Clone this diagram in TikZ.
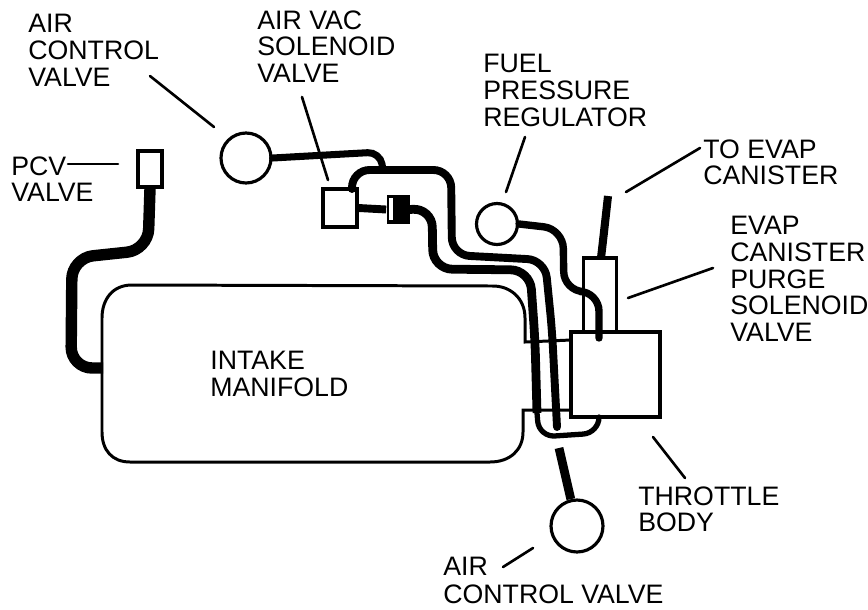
\documentclass[tikz,border=0pt]{standalone}
\usepackage{fontspec}
\setmainfont{Liberation Sans}
\tikzset{
  valve/.style={draw,circle,line width=1.8pt,fill=white,inner sep=0pt},
  partbox/.style={draw,rectangle,line width=1.8pt,fill=white,inner sep=0pt},
  hose/.style={line width=4.5pt,rounded corners=10pt,line cap=round},
  thinhose/.style={line width=3pt,rounded corners=9pt,line cap=round},
  leader/.style={line width=1.5pt,line cap=round},
  lbl/.style={anchor=north west,align=left,inner sep=0pt,font=\fontsize{15.2}{15.2}\selectfont}
}
\begin{document}
\begin{tikzpicture}[x=0.02cm,y=-0.02cm]
  \useasboundingbox (0,0) rectangle (868,609);

  % Manifold with its throat
  \draw[line width=1.7pt]
  (571,340) -- (525,342)                                % Upper throat
  -- (525,318) .. controls (525,298) and (510,286) .. (493,286)
  -- (132,285) .. controls (112,285) and (102,300) .. (102,318)
  -- (102,432) .. controls (102,450) and (112,462) .. (130,462)
  -- (490,462) .. controls (510,462) and (523,450) .. (523,432)
  -- (523,410) -- (571,410);                            % Lower throat
  \node[lbl] (intake) at (210,351) {INTAKE\\MANIFOLD};

  % Parts
  \node[partbox,minimum width=0.66cm,minimum height=1.48cm] (purge) at (600,295) {};
  \node[partbox,minimum width=1.78cm,minimum height=1.7cm] (body) at (615.5,374.5) {};
  \node[partbox,minimum width=0.48cm,minimum height=0.72cm] (pcv) at (150,169) {};
  \node[partbox,minimum width=0.68cm,minimum height=0.76cm] (vacsol) at (340,208) {};
  \node[valve,minimum size=1.0cm] (airtop) at (246,158) {};
  \node[valve,minimum size=0.82cm] (fuelreg) at (497,224) {};
  \node[valve,minimum size=1.04cm] (airbot) at (577,526) {};

  % Hoses
  \coordinate (evapend) at (608,196);
  \coordinate (bodyfuel) at (599,338);
  \coordinate (hosetwoend) at (557,427);
  \coordinate (hosebotend) at (559,448);
  \draw[line width=4.6pt,rounded corners=6pt] (evapend) -- (604,232) -- (601,258);
  \draw[line width=5pt] (hosebotend) -- (airbot);
  \draw[line width=6.5pt,rounded corners=12pt] (pcv.south) -- (148,250) -- (72,258) -- (71,368) -- (103,368);
  \draw[hose,line width=4pt,rounded corners=7pt] (airtop.east) -- (380,152) -- (383,170);
  \draw[hose] (352,189) -- (352,170) -- (451,170) -- (452,255) -- (545,260) -- (552,330) -- (hosetwoend);
  \draw[hose,line width=4.2pt,rounded corners=11pt] (fuelreg.east) -- (563,229) -- (564,291) -- (599,292) -- (bodyfuel);
  \node[fill=black,inner sep=0pt,minimum width=0.46cm,minimum height=0.58cm] (damper) at (398,209.5) {};
  \fill[white] (389,198) rectangle (393,220);
  \draw[hose,line cap=butt] (vacsol.east) -- (damper.west);
  \draw[hose,line width=5pt,line cap=butt,rounded corners=11pt] (damper.east) -- (432,208) -- (433,269) -- (530,270) -- (535,340) -- (537,413);
  \draw[thinhose] (537,413) -- (539,437) -- (599,433) -- (599,417);

  % Labels
  \node[lbl] (airtoplbl) at (28,14) {AIR\\CONTROL\\VALVE};
  \node[lbl] (vaclbl) at (257,10) {AIR VAC\\SOLENOID\\VALVE};
  \node[lbl] (fuellbl) at (483,54) {FUEL\\PRESSURE\\REGULATOR};
  \node[lbl] (pcvlbl) at (11,156) {PCV\\VALVE};
  \node[lbl] (evaplbl) at (703,139) {TO EVAP\\CANISTER};
  \node[lbl] (purgelbl) at (730,216) {EVAP\\CANISTER\\PURGE\\SOLENOID\\VALVE};
  \node[lbl] (bodylbl) at (638,486) {THROTTLE\\BODY};
  \node[lbl] (airbotlbl) at (443,557) {AIR};
  \node[lbl] (airbotlbltwo) at (443,584) {CONTROL VALVE};

  % Leaders
  \coordinate (a) at (150,76);
  \coordinate (b) at (214,127);
  \coordinate (c) at (302,97);
  \coordinate (d) at (328,180);
  \coordinate (e) at (525,137);
  \coordinate (f) at (506,192);
  \coordinate (g) at (626,192);
  \coordinate (h) at (700,148);
  \coordinate (i) at (628,298);
  \coordinate (j) at (713,268);
  \coordinate (k) at (653,437);
  \coordinate (l) at (685,478);
  \coordinate (m) at (503,567);
  \coordinate (n) at (533,548);
  \coordinate (o) at (68,164);
  \coordinate (p) at (118,164);
  \draw[leader] (a) -- (b);
  \draw[leader] (c) -- (d);
  \draw[leader] (e) -- (f);
  \draw[leader] (g) -- (h);
  \draw[leader] (i) -- (j);
  \draw[leader] (k) -- (l);
  \draw[leader] (m) -- (n);
  \draw[leader] (o) -- (p);
\end{tikzpicture}
\end{document}
